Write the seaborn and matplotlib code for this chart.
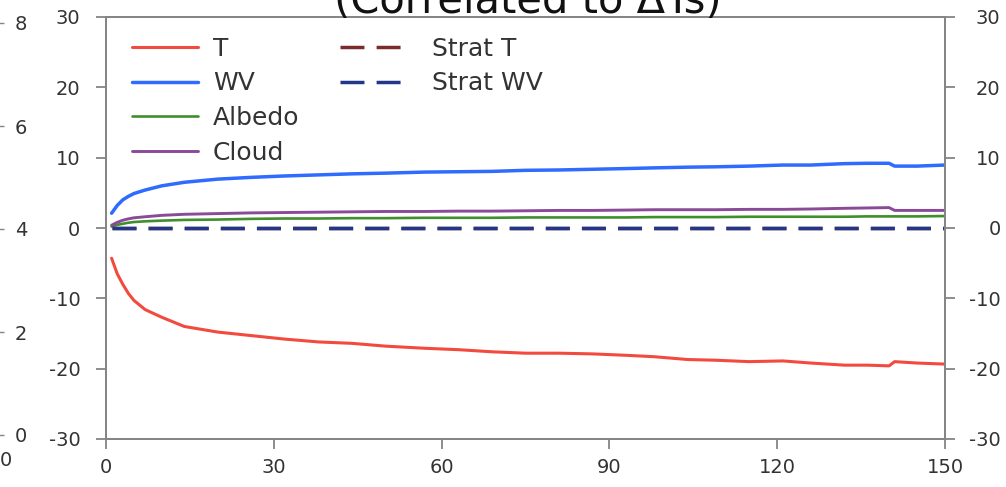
import matplotlib
matplotlib.use("Agg")
import matplotlib.pyplot as plt
import seaborn as sns

# Feedback time series (years after forcing)
YEARS = [1, 2, 3, 4, 5, 7, 10, 14, 20, 26, 32, 38, 44, 50, 57, 63, 69, 75, 81,
         87, 93, 98, 104, 109, 115, 121, 126, 132, 136, 140, 141, 145, 150]
T = [-4.3, -6.5, -8.0, -9.3, -10.3, -11.6, -12.7, -14.0, -14.8, -15.3, -15.8,
     -16.2, -16.4, -16.8, -17.1, -17.3, -17.6, -17.8, -17.8, -17.9, -18.1,
     -18.3, -18.7, -18.8, -19.0, -18.9, -19.2, -19.5, -19.5, -19.6, -19.0,
     -19.2, -19.35]
WV = [2.1, 3.2, 4.0, 4.5, 4.9, 5.4, 6.0, 6.5, 6.95, 7.2, 7.4, 7.55, 7.7, 7.8,
      7.95, 8.0, 8.05, 8.2, 8.25, 8.35, 8.45, 8.55, 8.65, 8.7, 8.8, 8.95, 8.95,
      9.15, 9.2, 9.2, 8.8, 8.8, 8.95]
ALBEDO = [0.2, 0.45, 0.6, 0.75, 0.85, 0.95, 1.05, 1.15, 1.2, 1.3, 1.35, 1.35,
          1.4, 1.4, 1.45, 1.45, 1.45, 1.5, 1.5, 1.5, 1.5, 1.55, 1.55, 1.55, 1.6,
          1.6, 1.6, 1.6, 1.65, 1.65, 1.65, 1.65, 1.7]
CLOUD = [0.4, 0.8, 1.1, 1.3, 1.45, 1.6, 1.8, 1.95, 2.05, 2.15, 2.2, 2.25, 2.3,
         2.35, 2.35, 2.4, 2.4, 2.45, 2.5, 2.5, 2.55, 2.6, 2.6, 2.6, 2.65, 2.65,
         2.7, 2.8, 2.85, 2.9, 2.5, 2.5, 2.5]
STRAT_YEARS = [1, 150]
STRAT_T = [0.0, 0.0]
STRAT_WV = [0.0, 0.0]

X_TICKS = [0, 30, 60, 90, 120, 150]
X_TICK_LABELS = ["0", "30", "60", "90", "120", "150"]
Y_TICKS = [-30, -20, -10, 0, 10, 20, 30]
Y_TICK_LABELS = ["-30", "-20", "-10", "0", "10", "20", "30"]
SIDE_Y_TICKS = [0, 2, 4, 6, 8]
SIDE_Y_TICK_LABELS = ["0", "2", "4", "6", "8"]
SIDE_X_END_LABEL = "0"
TITLE = "(Correlated to ΔTs)"

W, H = 1006, 487
sns.set_theme(style="white")
plt.rcParams["font.family"] = ["DejaVu Sans"]
plt.rcParams["axes.unicode_minus"] = False

SPINE = "#858585"
TEXT = "#333333"
TICK_FS = 14
LEG_FS = 18

fig = plt.figure(figsize=(W / 100, H / 100), dpi=100)
fig.patch.set_facecolor("white")


def px_rect(x0, y0, x1, y1):
    return [x0 / W, 1 - y1 / H, (x1 - x0) / W, (y1 - y0) / H]


# Adjacent panel on the left (only its right-hand axis reaches into view)
side = fig.add_axes(px_rect(-300, 23, -6, 435))
side.set_xlim(0, 150)
side.set_ylim(0, 8)
side.set_xticks([])
side.set_yticks(SIDE_Y_TICKS)
side.set_yticklabels(SIDE_Y_TICK_LABELS)
side.yaxis.tick_right()
for s in side.spines.values():
    s.set_color(SPINE)
side.tick_params(axis="y", which="both", right=True, left=False, direction="out",
                 length=7, width=1.0, color=SPINE, pad=8, labelsize=TICK_FS,
                 labelcolor=TEXT)
fig.text(0 / W, 1 - 461 / H, SIDE_X_END_LABEL, ha="left", va="center",
         fontsize=TICK_FS, color=TEXT)

# Main panel
ax = fig.add_axes(px_rect(106, 17, 945, 439))
ax.set_facecolor("white")

DASH = (0, (6.9, 3.5))
series = [
    ("T", YEARS, T, "#f24a3e", 2.2, "-"),
    ("WV", YEARS, WV, "#2f6bff", 2.5, "-"),
    ("Albedo", YEARS, ALBEDO, "#3f8f2c", 1.9, "-"),
    ("Cloud", YEARS, CLOUD, "#8a4a98", 2.1, "-"),
    ("Strat T", STRAT_YEARS, STRAT_T, "#7a2c2c", 2.5, DASH),
    ("Strat WV", STRAT_YEARS, STRAT_WV, "#22368a", 2.5, DASH),
]
for label, xs, ys, color, lw, ls in series:
    sns.lineplot(x=xs, y=ys, ax=ax, color=color, linewidth=lw, linestyle=ls,
                 label=label, estimator=None, sort=False, legend=False)

ax.set_xlim(0, 150)
ax.set_ylim(-30, 30)
ax.set_xticks(X_TICKS)
ax.set_xticklabels(X_TICK_LABELS)
ax.set_yticks(Y_TICKS)
ax.set_yticklabels(Y_TICK_LABELS)
ax.set_xlabel("")
ax.set_ylabel("")
for s in ax.spines.values():
    s.set_visible(True)
    s.set_color(SPINE)
    s.set_linewidth(1.3)
ax.tick_params(axis="x", bottom=True, direction="out", length=7, width=1.3,
               color=SPINE, pad=7, labelsize=TICK_FS, labelcolor=TEXT)
ax.tick_params(axis="y", left=True, direction="out", length=7, width=1.3,
               color=SPINE, pad=11.5, labelsize=TICK_FS, labelcolor=TEXT)
ax.grid(False)

# Mirrored scale on the right
ax_r = ax.twinx()
ax_r.set_ylim(-30, 30)
ax_r.set_yticks(Y_TICKS)
ax_r.set_yticklabels(Y_TICK_LABELS)
for s in ax_r.spines.values():
    s.set_color(SPINE)
    s.set_linewidth(1.3)
ax_r.tick_params(axis="y", right=True, direction="out", length=7, width=1.3,
                 color=SPINE, pad=33, labelsize=TICK_FS, labelcolor=TEXT)
for lab in ax_r.get_yticklabels():
    lab.set_horizontalalignment("right")
ax_r.grid(False)

# Legend laid out as two independent columns
handles, labels = ax.get_legend_handles_labels()
leg_kw = dict(loc="upper left", bbox_transform=fig.transFigure, frameon=False,
              borderpad=0, borderaxespad=0, handlelength=2.64,
              labelspacing=0.43, fontsize=LEG_FS, labelcolor=TEXT)
leg1 = ax_r.legend(handles[:4], labels[:4], handletextpad=0.6,
                   bbox_to_anchor=(132 / W, 1 - 36.5 / H), **leg_kw)
ax_r.add_artist(leg1)
leg2 = ax_r.legend(handles[4:], labels[4:], handletextpad=1.04,
                   bbox_to_anchor=(340 / W, 1 - 36.5 / H), **leg_kw)

fig.text(527.5 / W, 1 - 13.5 / H, TITLE, ha="center", va="baseline",
         fontsize=30, color="#111111")

fig.savefig("out.png", dpi=100, facecolor="white")
